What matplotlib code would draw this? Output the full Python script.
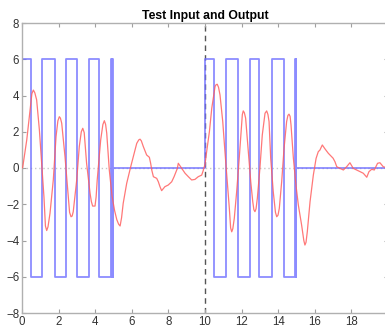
import matplotlib
matplotlib.use("Agg")
import matplotlib.pyplot as plt

plt.rcParams['font.family'] = ['Liberation Sans', 'DejaVu Sans']

# Test input: square-wave bursts (switch times and levels held until next switch)
input_times = [0.0, 0.47, 1.09, 1.80, 2.42, 3.02, 3.64, 4.22, 4.86, 4.90, 4.94, 4.97, 5.00,
               10.00, 10.51, 11.13, 11.80, 12.44, 12.97, 13.68, 14.32, 14.92, 14.95, 14.98, 15.00, 20.0]
input_levels = [6, -6, 6, -6, 6, -6, 6, -6, 6, -6, 6, -6, 0,
                6, -6, 6, -6, 6, -6, 6, -6, 6, -6, 6, 0, 0]

# Measured output response
output_t = [0.00, 0.04, 0.26, 0.45, 0.54, 0.62, 0.70, 0.80, 0.95, 1.09, 1.20, 1.28, 1.35, 1.42,
            1.53, 1.71, 1.86, 1.96, 2.04, 2.10, 2.17, 2.35, 2.50, 2.60, 2.68, 2.74, 2.80, 2.99,
            3.13, 3.24, 3.32, 3.40, 3.53, 3.72, 3.79, 3.86, 3.99, 4.05, 4.11, 4.30, 4.42, 4.50,
            4.57, 4.63, 4.77, 4.92, 5.06, 5.18, 5.28, 5.36, 5.44, 5.53, 5.72, 5.94,
            6.08, 6.27, 6.38, 6.45, 6.52, 6.63, 6.81, 6.96, 7.03, 7.09, 7.18, 7.36, 7.45, 7.54,
            7.63, 7.81, 7.99, 8.18, 8.31, 8.49, 8.54, 8.73, 8.91, 9.09, 9.27, 9.45,
            9.63, 9.82, 9.90, 10.00, 10.09, 10.24, 10.37, 10.55, 10.61, 10.67, 10.74, 10.82, 10.97,
            11.09, 11.22, 11.33, 11.40, 11.46, 11.52, 11.60, 11.73, 11.87, 12.00, 12.04, 12.09,
            12.15, 12.22, 12.37, 12.50, 12.61, 12.67, 12.73, 12.79, 12.86, 13.00, 13.13, 13.28,
            13.37, 13.44, 13.50, 13.59, 13.73, 13.85, 13.92, 13.99, 14.06, 14.19, 14.32, 14.46,
            14.53, 14.59, 14.65, 14.70, 14.83, 14.97, 15.10, 15.28, 15.40, 15.46, 15.52, 15.59,
            15.74, 15.92, 16.07, 16.19, 16.28, 16.41, 16.56, 16.74, 17.00, 17.10, 17.20, 17.38,
            17.56, 17.74, 17.92, 18.10, 18.29, 18.47, 18.65, 18.84, 18.96, 19.11, 19.25, 19.43,
            19.56, 19.74, 20.00]
output_y = [0.00, 0.05, 1.55, 3.30, 4.10, 4.30, 4.15, 3.76, 2.10, 0.00, -1.60, -3.20, -3.45, -3.25,
            -2.50, -0.66, 1.73, 2.60, 2.83, 2.75, 2.47, 0.62, -1.22, -2.45, -2.69, -2.65, -2.41, -0.66,
            1.18, 2.00, 2.19, 1.95, 0.26, -1.40, -1.85, -2.10, -2.10, -1.60, -0.66, 1.55, 2.40, 2.61,
            2.40, 1.92, -0.11, -1.55, -2.35, -2.85, -3.10, -3.20, -2.75, -1.95, -0.85, 0.07,
            0.62, 1.36, 1.55, 1.59, 1.50, 1.18, 0.72, 0.59, 0.26, -0.11, -0.48, -0.57, -0.76, -1.03,
            -1.25, -1.03, -0.94, -0.76, -0.48, -0.02, 0.26, -0.02, -0.29, -0.48, -0.66, -0.63,
            -0.48, -0.39, -0.15, 0.20, 0.90, 2.00, 3.30, 4.50, 4.60, 4.62, 4.45, 4.03, 2.56,
            0.90, -0.76, -2.23, -3.30, -3.52, -3.35, -2.78, -1.31, 0.53, 2.38, 2.95, 3.15,
            3.05, 2.75, 0.90, -0.76, -1.86, -2.30, -2.41, -2.25, -1.67, -0.02, 1.82, 3.02,
            3.15, 2.95, 2.56, 0.53, -1.31, -2.45, -2.69, -2.60, -2.23, -0.76, 1.09, 2.56,
            2.90, 2.97, 2.85, 2.38, 0.53, -0.94, -2.04, -3.15, -4.00, -4.25, -4.10, -3.52,
            -1.86, -0.39, 0.53, 0.90, 0.99, 1.27, 1.05, 0.81, 0.54, 0.35, 0.07, -0.02,
            -0.11, 0.07, 0.29, -0.02, -0.11, -0.20, -0.29, -0.51, -0.20, -0.07, -0.11, 0.26,
            0.29, 0.07, 0.00]

x_ticks = [0, 2, 4, 6, 8, 10, 12, 14, 16, 18, 20]
x_tick_labels = ['0', '2', '4', '6', '8', '10', '12', '14', '16', '18', '']
y_ticks = [-8, -6, -4, -2, 0, 2, 4, 6, 8]
title_text = "Test Input and Output"

fig = plt.figure(figsize=(3.85, 3.32), dpi=100)
ax = fig.add_axes([22 / 385, 19 / 332, 366 / 385, 290 / 332])

ax.axhline(0, color='#c8c8c8', lw=1.0, ls=(0, (1, 2)), zorder=1)
ax.axvline(10, color='#555555', lw=1.0, ls=(0, (4, 3)), zorder=1)

ax.step(input_times, input_levels, where='post', color='#7070ff', lw=1.3, alpha=0.8, zorder=2)
ax.plot(output_t, output_y, color='#ff6060', lw=0.9, alpha=0.85, zorder=3,
        solid_joinstyle='round')

ax.set_xlim(0, 20)
ax.set_ylim(-8, 8)
ax.set_xticks(x_ticks)
ax.set_xticklabels(x_tick_labels)
ax.set_yticks(y_ticks)
ax.tick_params(direction='in', length=3, width=0.8, colors='#a0a0a0',
               labelcolor='#333333', labelsize=8.3, top=True, right=True, pad=2)
for s in ax.spines.values():
    s.set_color('#b0b0b0')
    s.set_linewidth(1.0)

ax.set_title(title_text, fontsize=8.8, fontweight='bold', pad=3)

fig.savefig("out.png", dpi=100)
